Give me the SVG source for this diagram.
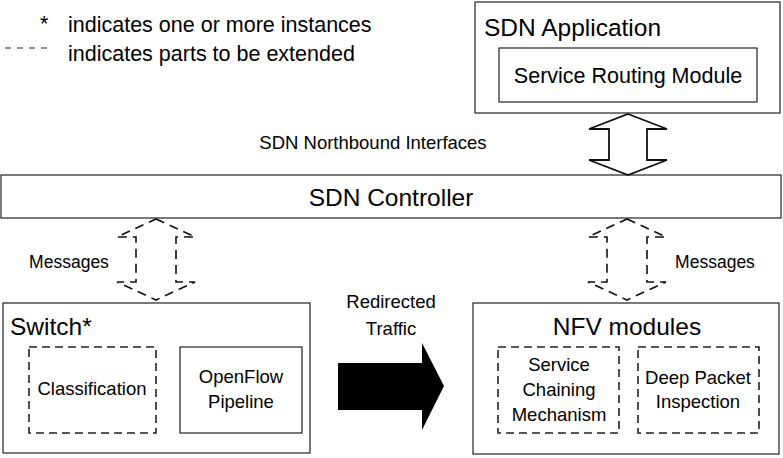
<svg xmlns="http://www.w3.org/2000/svg" width="783" height="458" viewBox="0 0 783 458">
<style>
text{font-family:"Liberation Sans",Arial,sans-serif;fill:#000}
.box{fill:#fff;stroke:#222;stroke-width:1.2}
.dbox{fill:none;stroke:#222;stroke-width:1.6;stroke-dasharray:8,5}
.dar{fill:none;stroke:#111;stroke-width:1.6;stroke-dasharray:9,6}
.t24{font-size:24.5px}
.t22{font-size:21.5px}
.t18{font-size:18.5px}
.t17{font-size:17.5px}
</style>
<rect width="783" height="458" fill="#fff"/>
<g id="legend">
<text x="40" y="31" class="t22">*</text>
<text x="68" y="32" class="t22">indicates one or more instances</text>
<line x1="5" y1="48" x2="52" y2="48" stroke="#222" stroke-width="1.2" stroke-dasharray="6,6"/>
<text x="68" y="61" class="t22">indicates parts to be extended</text>
</g>
<g id="sdn-application">
<rect class="box" x="475" y="2" width="305" height="111"/>
<text x="484" y="36" class="t24">SDN Application</text>
</g>
<g id="service-routing-module">
<rect class="box" x="499" y="48" width="258" height="54"/>
<text x="628" y="83" class="t22" text-anchor="middle">Service Routing Module</text>
</g>
<g id="sdn-controller">
<rect class="box" x="1" y="175" width="780" height="43"/>
<text x="391" y="206" class="t24" text-anchor="middle">SDN Controller</text>
</g>
<g id="switch">
<rect class="box" x="3" y="303" width="307" height="150"/>
<text x="10" y="335" class="t24">Switch*</text>
</g>
<g id="classification">
<rect class="dbox" x="29" y="347" width="127" height="86"/>
<text x="92" y="395" class="t18" text-anchor="middle">Classification</text>
</g>
<g id="openflow-pipeline">
<rect class="box" x="180" y="347" width="122" height="86"/>
<text x="241" y="383" class="t18" text-anchor="middle">OpenFlow</text>
<text x="241" y="408" class="t18" text-anchor="middle">Pipeline</text>
</g>
<g id="nfv-modules">
<rect class="box" x="473" y="303" width="306" height="151"/>
<text x="627" y="335" class="t24" text-anchor="middle">NFV modules</text>
</g>
<g id="service-chaining">
<rect class="dbox" x="498" y="347" width="121" height="86"/>
<text x="559" y="371" class="t18" text-anchor="middle">Service</text>
<text x="559" y="396" class="t18" text-anchor="middle">Chaining</text>
<text x="559" y="421" class="t18" text-anchor="middle">Mechanism</text>
</g>
<g id="deep-packet-inspection">
<rect class="dbox" x="638" y="347" width="121" height="86"/>
<text x="698" y="384" class="t18" text-anchor="middle">Deep Packet</text>
<text x="698" y="408" class="t18" text-anchor="middle">Inspection</text>
</g>
<g id="connectors">
<polygon points="628,114 667,129 647,129 647,160 667,160 628,175 589,160 609,160 609,129 589,129" fill="#fff" stroke="#111" stroke-width="1.8"/>
<text x="373" y="149" class="t18" text-anchor="middle">SDN Northbound Interfaces</text>
<polygon class="dar" points="156,219 195,237 176,237 176,282 195,282 156,300 117,282 136,282 136,237 117,237"/>
<text x="69" y="268" class="t17" text-anchor="middle">Messages</text>
<polygon class="dar" points="627,219 666,237 647,237 647,282 666,282 627,300 588,282 607,282 607,237 588,237"/>
<text x="715" y="268" class="t17" text-anchor="middle">Messages</text>
<polygon points="338,363 422,363 422,343 444,386 422,430 422,410 338,410" fill="#000"/>
<text x="391" y="308" class="t18" text-anchor="middle">Redirected</text>
<text x="391" y="335" class="t18" text-anchor="middle">Traffic</text>
</g>
</svg>
